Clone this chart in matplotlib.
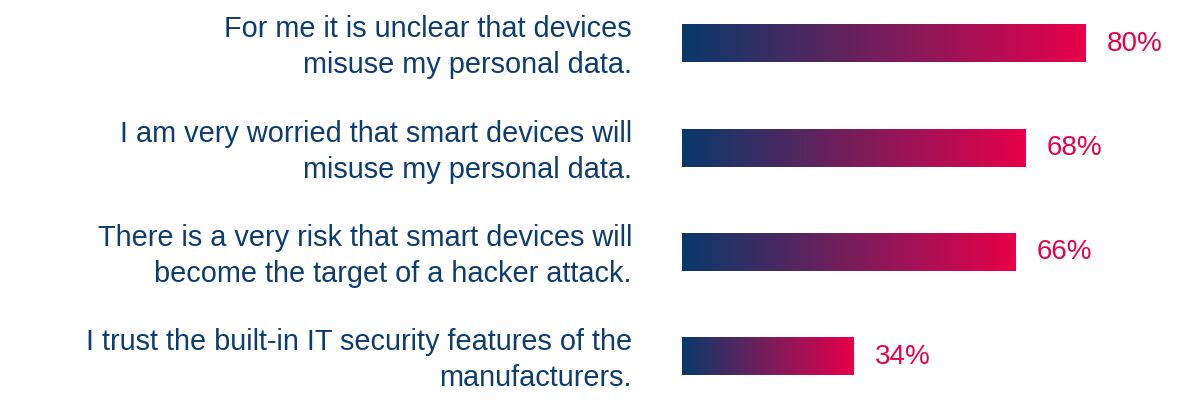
import matplotlib
matplotlib.use("Agg")
import matplotlib.pyplot as plt
import matplotlib.transforms as mtransforms
from matplotlib.colors import LinearSegmentedColormap
import numpy as np

categories = [
    "For me it is unclear that devices\nmisuse my personal data.",
    "I am very worried that smart devices will\nmisuse my personal data.",
    "There is a very risk that smart devices will\nbecome the target of a hacker attack.",
    "I trust the built-in IT security features of the\nmanufacturers.",
]
values = [80, 68, 66, 34]
value_labels = ["80%", "68%", "66%", "34%"]

BLUE = "#083a6b"
RED = "#e8004a"
TEXT = "#0d3c6e"

plt.rcParams['font.family'] = ['Liberation Sans', 'DejaVu Sans']

W, H = 1200, 411
fig = plt.figure(figsize=(W / 100, H / 100), dpi=100)
left_px = 682
ax = fig.add_axes([left_px / W, 0, (W - left_px) / W, 1])
px_per_unit = 5.05
unit = 104.33

cmap = LinearSegmentedColormap.from_list("g", [BLUE, RED])
grad = np.linspace(0, 1, 256).reshape(1, -1)
bh = 0.36
for i, v in enumerate(values):
    ax.imshow(grad, cmap=cmap, aspect="auto",
              extent=[0, v, i + bh / 2, i - bh / 2], interpolation="bilinear")
    ax.text(v + 21 / px_per_unit, i, value_labels[i], color=RED, fontsize=20,
            va="center", ha="left")

trans = mtransforms.blended_transform_factory(fig.transFigure, ax.transData)
for i, c in enumerate(categories):
    ax.text(632 / W, i + 0.035, c, transform=trans, ha="right", va="center",
            color=TEXT, fontsize=20.8, linespacing=1.36, clip_on=False)

ax.axis("off")
ax.set_xlim(0, (W - left_px) / px_per_unit)
ax.set_ylim(3 + (H - 356.6) / unit, -43.6 / unit)
fig.savefig("out.png", dpi=100)
